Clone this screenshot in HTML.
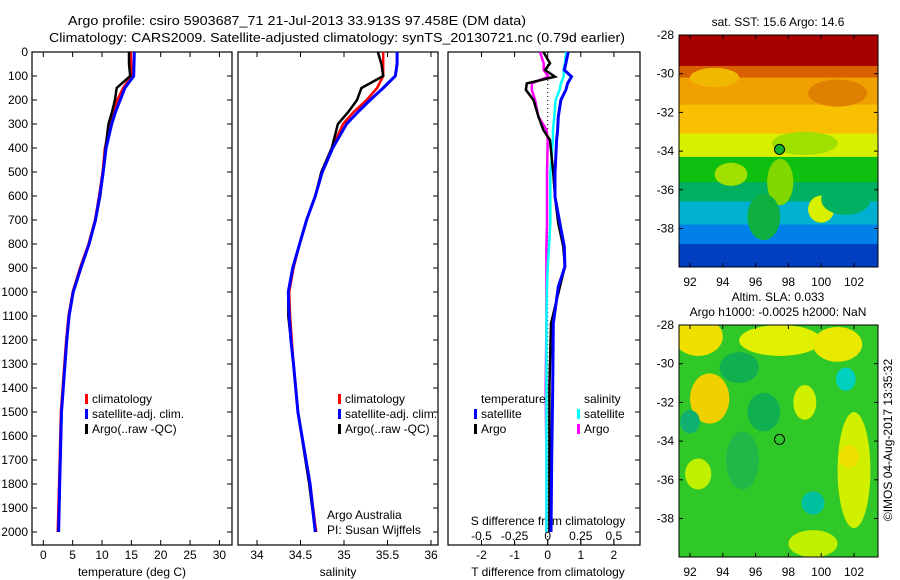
<!DOCTYPE html>
<html><head><meta charset="utf-8"><style>
html,body{margin:0;padding:0;background:#fff;}
svg{display:block;font-family:"Liberation Sans",sans-serif;}
text{font-size:12px;fill:#000;}
</style></head><body>
<svg id="chart" width="900" height="580" viewBox="0 0 900 580" xmlns="http://www.w3.org/2000/svg">
<rect width="900" height="580" fill="#fff"/>
<text x="68" y="25" font-size="13" style="font-size:13px" textLength="458" lengthAdjust="spacingAndGlyphs">Argo profile: csiro 5903687_71 21-Jul-2013 33.913S 97.458E (DM data)</text>
<text x="49" y="42" style="font-size:13px" textLength="576" lengthAdjust="spacingAndGlyphs">Climatology: CARS2009. Satellite-adjusted climatology: synTS_20130721.nc (0.79d earlier)</text>
<g id="plots"></g>
<g id="maps"></g>
</svg>
<script>
// ---- data ----
const depths = [0,50,100,150,200,250,300,400,500,600,700,800,900,1000,1100,1200,1300,1500,1800,2000];
const tempClim = [14.9,14.95,15.05,13.6,12.6,12.0,11.4,10.5,10.1,9.5,8.8,7.7,6.25,5.0,4.3,3.9,3.6,3.0,2.7,2.45];
const tempSat  = [15.5,15.45,15.4,13.9,13.1,12.3,11.65,10.7,10.2,9.6,8.9,7.8,6.4,5.1,4.4,4.0,3.7,3.1,2.8,2.6];
const tempArgo = [14.6,14.6,14.8,12.5,12.2,11.7,11.1,10.6,10.2,9.7,8.9,7.8,6.35,5.1,4.4,4.0,3.7,3.1,2.8,2.6];
const salClim = [35.45,35.45,35.45,35.38,35.26,35.11,34.99,34.86,34.74,34.67,34.57,34.49,34.42,34.37,34.38,34.40,34.42,34.47,34.61,34.68];
const salSat  = [35.61,35.61,35.59,35.45,35.3,35.16,35.03,34.87,34.75,34.67,34.57,34.49,34.41,34.36,34.37,34.39,34.42,34.47,34.61,34.67];
const salArgo = [35.39,35.43,35.45,35.2,35.15,35.05,34.93,34.86,34.74,34.67,34.57,34.49,34.41,34.36,34.36,34.39,34.42,34.47,34.60,34.67];
const diffDepths = [0,47,75,103,131,158,200,269,325,367,506,603,714,811,894,978,1131,1400,1700,2000];
const tDiffArgo = [-0.13,0.07,-0.08,0.22,-0.63,-0.66,-0.43,-0.28,-0.13,0.07,0.17,0.22,0.32,0.47,0.52,0.37,0.1,0.05,0.05,0.05];
const tDiffSat  = [0.62,0.55,0.5,0.72,0.6,0.55,0.4,0.32,0.3,0.27,0.22,0.22,0.37,0.5,0.52,0.32,0.17,0.15,0.12,0.1];
const sDiffSat  = [0.14,0.13,0.12,0.12,0.1,0.09,0.06,0.05,0.04,0.04,0.02,0.02,0.02,0.01,0,-0.005,-0.01,-0.01,-0.01,-0.01];
const sDiffArgo = [-0.058,-0.03,-0.03,0.005,-0.12,-0.12,-0.095,-0.07,-0.008,0,-0.005,-0.005,-0.005,-0.01,-0.01,-0.01,-0.01,-0.015,-0.01,-0.01];
const depthTicks = [0,100,200,300,400,500,600,700,800,900,1000,1100,1200,1300,1400,1500,1600,1700,1800,1900,2000];
const tempTicks = [0,5,10,15,20,25,30];
const salTicks = [34,34.5,35,35.5,36];
const tDiffTicks = [-2,-1,0,1,2];
const sDiffTicks = [-0.5,-0.25,0,0.25,0.5];
const lonTicks = [92,94,96,98,100,102];
const latTicks = [-28,-30,-32,-34,-36,-38];
const argoLon = 97.458, argoLat = -33.913;

const NS='http://www.w3.org/2000/svg';
function mk(tag, attrs, parent){const e=document.createElementNS(NS,tag);for(const k in attrs)e.setAttribute(k,attrs[k]);parent.appendChild(e);return e;}
const plots=document.getElementById('plots');
const maps=document.getElementById('maps');
const TOP=52, BOT=545;
const yD = d => TOP + d*0.24;
const xT = v => 43.3 + v*5.87;
const xS = v => 257 + (v-34)*87;
const xTD = v => 547.7 + v*33.1;
const xSD = v => 547.7 + v*4*33.1;

function panel(x0,x1,name){
  const r=mk('rect',{x:x0,y:TOP,width:x1-x0,height:BOT-TOP,fill:'none',stroke:'#000','stroke-width':1.2},plots);
  
  
}
panel(32,232,'temperature-panel');
panel(238,438,'salinity-panel');
panel(448,640,'difference-panel');

// depth ticks
depthTicks.forEach(d=>{
  const t=mk('text',{x:28,y:yD(d)+4,'text-anchor':'end'},plots);t.textContent=d;
  
  
  mk('line',{x1:32,x2:37,y1:yD(d),y2:yD(d),stroke:'#000'},plots);
  mk('line',{x1:227,x2:232,y1:yD(d),y2:yD(d),stroke:'#000'},plots);
  mk('line',{x1:433,x2:438,y1:yD(d),y2:yD(d),stroke:'#000'},plots);
  mk('line',{x1:635,x2:640,y1:yD(d),y2:yD(d),stroke:'#000'},plots);
});
function xticks(arr,fx,name,topTicks){
  arr.forEach(v=>{
    const x=fx(v);
    mk('line',{x1:x,x2:x,y1:BOT,y2:BOT-5,stroke:'#000'},plots);
    if(topTicks) mk('line',{x1:x,x2:x,y1:TOP,y2:TOP+5,stroke:'#000'},plots);
    const t=mk('text',{x:x,y:559,'text-anchor':'middle'},plots);t.textContent=v;
    
    
  });
}
xticks(tempTicks,xT,'temperature-tick-label',true);
xticks(salTicks,xS,'salinity-tick-label',true);
xticks(tDiffTicks,xTD,'t-difference-tick-label',false);
sDiffTicks.forEach(v=>{
  const x=xSD(v);
  mk('line',{x1:x,x2:x,y1:TOP,y2:TOP+5,stroke:'#000'},plots);
  mk('line',{x1:x,x2:x,y1:BOT,y2:BOT-5,stroke:'#000'},plots);
  const t=mk('text',{x:x,y:540,'text-anchor':'middle'},plots);t.textContent=v;
  
  
});
function label(x,y,s,name,anchor){const t=mk('text',{x:x,y:y,'text-anchor':anchor||'start'},plots);t.textContent=s;
  
  return t;}
label(132,576,'temperature (deg C)','x-axis-title-temperature','middle');
label(338,576,'salinity','x-axis-title-salinity','middle');
label(548,576,'T difference from climatology','x-axis-title-t-difference','middle');
label(548,525,'S difference from climatology','s-difference-axis-title','middle');
label(327,519,'Argo Australia','credit-argo-australia');
label(327,534,'PI: Susan Wijffels','credit-pi');

// zero line
mk('line',{x1:xTD(0),x2:xTD(0),y1:TOP,y2:BOT,stroke:'#000','stroke-dasharray':'1 3','stroke-width':1},plots);

function series(xs,ds,fx,color,w,name){
  const pts=xs.map((v,i)=>fx(v).toFixed(1)+','+yD(ds[i]).toFixed(1)).join(' ');
  const p=mk('polyline',{points:pts,fill:'none',stroke:color,'stroke-width':w,'stroke-linejoin':'miter'},plots);
  
  
}
series(tempClim,depths,xT,'#f00',2.5,'temperature-climatology-line');
series(tempArgo,depths,xT,'#000',2.5,'temperature-argo-line');
series(tempSat,depths,xT,'#00f',3,'temperature-satellite-line');
series(salClim,depths,xS,'#f00',2.5,'salinity-climatology-line');
series(salArgo,depths,xS,'#000',2.5,'salinity-argo-line');
series(salSat,depths,xS,'#00f',3,'salinity-satellite-line');
series(sDiffArgo,diffDepths,xSD,'#f0f',2.5,'s-difference-argo-line');
series(sDiffSat,diffDepths,xSD,'#0ff',2.5,'s-difference-satellite-line');
series(tDiffArgo,diffDepths,xTD,'#000',2.5,'t-difference-argo-line');
series(tDiffSat,diffDepths,xTD,'#00f',3,'t-difference-satellite-line');

function legend(x,y,color,txt,name){
  mk('rect',{x:x,y:y-9,width:3,height:10,fill:color},plots);
  const t=label(x+7,y,txt,name);
}
[[85,'#f00','climatology'],[85,'#00f','satellite-adj. clim.'],[85,'#000','Argo(..raw -QC)']].forEach((e,i)=>legend(e[0],403+i*15,e[1],e[2],'legend-entry-temperature'));
[[338,'#f00','climatology'],[338,'#00f','satellite-adj. clim.'],[338,'#000','Argo(..raw -QC)']].forEach((e,i)=>legend(e[0],403+i*15,e[1],e[2],'legend-entry-salinity'));
label(481,403,'temperature','legend-heading-temperature');
label(584,403,'salinity','legend-heading-salinity');
legend(474,418,'#00f','satellite','legend-entry-t-satellite');
legend(474,433,'#000','Argo','legend-entry-t-argo');
legend(577,418,'#0ff','satellite','legend-entry-s-satellite');
legend(577,433,'#f0f','Argo','legend-entry-s-argo');

// ---- maps ----
const MX0=679, MX1=878;
const xLon = v => 690 + (v-92)*16.4;
function mapFrame(y0,name,bands,blobs,labelY){
  const g=mk('g',{},maps);
  
  
  const yLat = v => y0 + (-28 - v)*19.35;
  const id=name+'-clip';
  const cp=mk('clipPath',{id:id},g);mk('rect',{x:MX0,y:y0,width:MX1-MX0,height:232},cp);
  const inner=mk('g',{'clip-path':'url(#'+id+')'},g);
  bands.forEach(b=>mk('rect',{x:MX0,y:yLat(b[0]),width:MX1-MX0,height:yLat(b[1])-yLat(b[0])+1,fill:b[2]},inner));
  blobs.forEach(b=>mk('ellipse',{cx:xLon(b[0]),cy:yLat(b[1]),rx:b[2]*16.4,ry:b[3]*19.35,fill:b[4]},inner));
  mk('rect',{x:MX0,y:y0,width:MX1-MX0,height:232,fill:'none',stroke:'#000'},g);
  latTicks.forEach(v=>{const y=yLat(v);mk('line',{x1:MX0,x2:MX0+4,y1:y,y2:y,stroke:'#000'},g);mk('line',{x1:MX1-4,x2:MX1,y1:y,y2:y,stroke:'#000'},g);
    const t=mk('text',{x:674,y:y+4,'text-anchor':'end'},g);t.textContent=v;
    
    });
  lonTicks.forEach(v=>{const x=xLon(v);mk('line',{x1:x,x2:x,y1:y0,y2:y0+4,stroke:'#000'},g);mk('line',{x1:x,x2:x,y1:y0+228,y2:y0+232,stroke:'#000'},g);
    const t=mk('text',{x:x,y:labelY,'text-anchor':'middle'},g);t.textContent=v;
    
    });
  const c=mk('circle',{cx:xLon(argoLon),cy:yLat(argoLat),r:5,fill:'none',stroke:'#000','stroke-width':1},g);
  
  
  return c;
}
const sstBands=[[-28,-29.6,'#a80000'],[-29.6,-30.2,'#d86000'],[-30.2,-31.6,'#f0a000'],[-31.6,-33.1,'#f8c000'],[-33.1,-34.3,'#d8f000'],[-34.3,-35.6,'#10c010'],[-35.6,-36.6,'#00b060'],[-36.6,-37.8,'#00b0d0'],[-37.8,-38.8,'#0080e8'],[-38.8,-40,'#0040c0']];
const sstBlobs=[[93.5,-30.2,1.5,0.5,'#f0b800'],[101,-31,1.8,0.7,'#e08000'],[99,-33.6,2,0.6,'#a0e000'],[100,-37,0.8,0.7,'#d8f000'],[94.5,-35.2,1,0.6,'#a0e000'],[97.5,-35.6,0.8,1.2,'#80d800'],[96.5,-37.4,1,1.2,'#10b040'],[101.5,-36.5,1.5,0.8,'#00b060']];
const c1=mapFrame(35,'sst-map',sstBands,sstBlobs,286);
c1.setAttribute('fill','#10b030');
const slaBands=[[-28,-40,'#30c828']];
const slaBlobs=[[92.5,-28.6,1.5,1,'#f0e000'],[93.2,-31.8,1.2,1.3,'#f0d000'],[97.5,-28.8,2.5,0.8,'#e0f000'],[101,-29,1.5,0.9,'#e8e800'],[99,-32,0.7,0.9,'#d0f000'],[102,-35.5,1,3,'#d0f000'],[101.7,-34.8,0.6,0.6,'#f0e000'],[95,-30.2,1.2,0.8,'#10b050'],[96.5,-32.5,1,1,'#10b050'],[101.5,-30.8,0.6,0.6,'#00d0c0'],[99.5,-37.2,0.7,0.6,'#00c0a0'],[92,-33,0.6,0.6,'#10b070'],[95.2,-35,1,1.5,'#20b848'],[99.5,-39.3,1.5,0.7,'#c0f000'],[92.5,-35.7,0.8,0.8,'#c0f000']];
mapFrame(325,'sla-map',slaBands,slaBlobs,576);
function mtext(x,y,s,name){const t=mk('text',{x:x,y:y,'text-anchor':'middle'},maps);t.textContent=s;
  
  return t;}
mtext(778,26,'sat. SST: 15.6 Argo: 14.6','sst-map-title');
mtext(778,301,'Altim. SLA: 0.033','sla-map-title');
mtext(778,316,'Argo h1000: -0.0025 h2000: NaN','sla-map-subtitle');
const cr=mtext(892,440,'©IMOS 04-Aug-2017 13:35:32','imos-timestamp');
cr.setAttribute('transform','rotate(-90 892 440)');
</script>
</body></html>
